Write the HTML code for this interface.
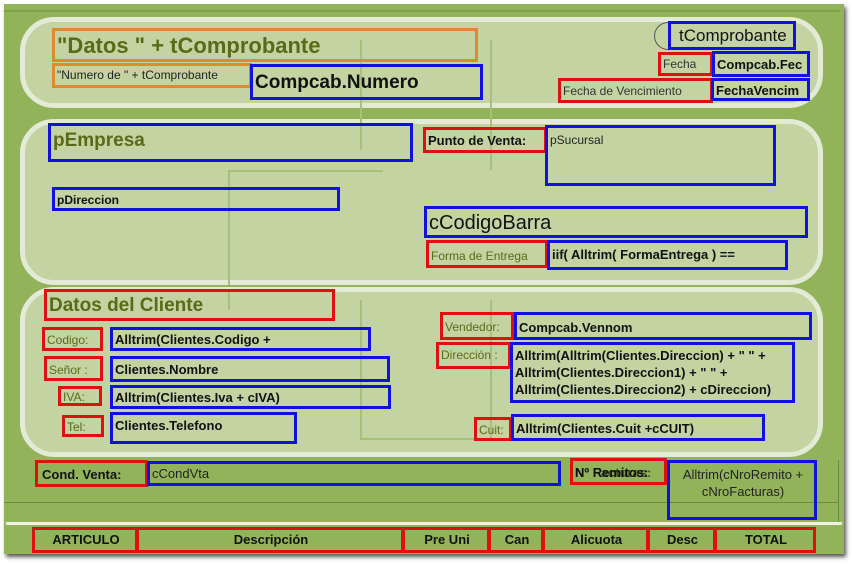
<!DOCTYPE html>
<html><head><meta charset="utf-8"><style>
*{margin:0;padding:0;box-sizing:border-box}
body{width:852px;height:565px;background:#fff;position:relative;overflow:hidden;font-family:"Liberation Sans Narrow","Liberation Sans",sans-serif}
.abs{position:absolute}
.frame{left:4px;top:4px;width:840px;height:550px;background:#92b35a;box-shadow:2px 3px 4px #555}
.panel{background:#c3d3a2;border:5px solid #e3ead5;border-radius:34px}
.b,.r,.o{position:absolute;border:3px solid #1010e0;white-space:nowrap;overflow:hidden;line-height:1.1;padding-left:2px}
.r{border-color:#e01010}
.o{border-color:#e08a30}
.t{color:#111;font-weight:bold}
.g{color:#6a7a20}
.hdr{font-weight:bold;font-size:13px;text-align:center;color:#111;line-height:20px}
</style></head><body>
<div class="abs frame"></div>
<div class="abs" style="left:4px;top:10px;width:836px;height:2px;background:#7f9f48"></div>
<div class="abs panel" style="left:20px;top:17px;width:803px;height:91px"></div>
<div class="abs panel" style="left:20px;top:119px;width:803px;height:166px"></div>
<div class="abs panel" style="left:20px;top:287px;width:803px;height:170px"></div>
<!-- faint guide lines -->
<div class="abs" style="left:228px;top:170px;width:2px;height:115px;background:#a7c07a"></div>
<div class="abs" style="left:228px;top:170px;width:155px;height:2px;background:#a7c07a"></div>
<div class="abs" style="left:228px;top:290px;width:2px;height:20px;background:#a7c07a"></div>
<div class="abs" style="left:360px;top:40px;width:2px;height:110px;background:#a7c07a"></div>
<div class="abs" style="left:490px;top:40px;width:2px;height:130px;background:#a7c07a"></div>
<div class="abs" style="left:360px;top:300px;width:2px;height:140px;background:#a7c07a"></div>
<div class="abs" style="left:490px;top:300px;width:2px;height:140px;background:#a7c07a"></div>
<div class="abs" style="left:360px;top:438px;width:132px;height:2px;background:#a7c07a"></div>
<!-- bottom band -->
<div class="abs" style="left:4px;top:502px;width:834px;height:1px;background:#6d8a40"></div>
<div class="abs" style="left:6px;top:522px;width:836px;height:3px;background:#eef2e4"></div>
<div class="abs" style="left:838px;top:460px;width:1px;height:62px;background:#6d8a40"></div>

<!-- header panel -->
<div class="o g" style="left:52px;top:28px;width:426px;height:34px;font-size:22px;font-weight:bold;color:#5a6a18;padding-top:3px">"Datos " + tComprobante</div>
<div class="o" style="left:52px;top:63px;width:200px;height:25px;font-size:12px;color:#222;padding-top:3px">"Numero de " + tComprobante</div>
<div class="b t" style="left:250px;top:64px;width:233px;height:36px;font-size:19px;padding-top:6px">Compcab.Numero</div>
<div class="abs" style="left:654px;top:22px;width:30px;height:28px;border:1px solid #555;border-radius:14px 0 0 14px;border-right:none"></div>
<div class="b" style="left:668px;top:21px;width:128px;height:29px;font-size:17px;color:#111;padding-top:3px;padding-left:8px">tComprobante</div>
<div class="r" style="left:658px;top:52px;width:55px;height:24px;font-size:12px;color:#333;padding-top:3px">Fecha</div>
<div class="b t" style="left:712px;top:51px;width:98px;height:26px;font-size:13px;padding-top:4px">Compcab.Fec</div>
<div class="r" style="left:558px;top:78px;width:155px;height:25px;font-size:12px;color:#333;padding-top:4px">Fecha de Vencimiento</div>
<div class="b t" style="left:711px;top:78px;width:99px;height:23px;font-size:13px;padding-top:3px">FechaVencim</div>

<!-- empresa panel -->
<div class="b" style="left:48px;top:123px;width:365px;height:39px;font-size:19px;font-weight:bold;color:#5a6a18;padding-top:5px">pEmpresa</div>
<div class="r t" style="left:423px;top:127px;width:124px;height:26px;font-size:13px;padding-top:4px">Punto de Venta:</div>
<div class="b" style="left:545px;top:125px;width:231px;height:61px;font-size:12px;color:#222;padding-top:6px">pSucursal</div>
<div class="b t" style="left:52px;top:187px;width:288px;height:24px;font-size:12px;padding-top:4px">pDireccion</div>
<div class="b" style="left:424px;top:206px;width:384px;height:32px;font-size:20px;color:#111;padding-top:3px">cCodigoBarra</div>
<div class="r" style="left:426px;top:240px;width:122px;height:28px;font-size:12px;color:#5a6a18;padding-top:7px">Forma de Entrega</div>
<div class="b t" style="left:547px;top:240px;width:241px;height:30px;font-size:13px;padding-top:5px">iif( Alltrim( FormaEntrega ) ==</div>

<!-- cliente panel -->
<div class="r" style="left:44px;top:289px;width:291px;height:32px;font-size:19px;font-weight:bold;color:#5a6a18;padding-top:4px">Datos del Cliente</div>
<div class="r" style="left:42px;top:327px;width:61px;height:24px;font-size:12px;color:#5a6a18;padding-top:4px">Codigo:</div>
<div class="b t" style="left:110px;top:327px;width:261px;height:24px;font-size:13px;padding-top:3px">Alltrim(Clientes.Codigo +</div>
<div class="r" style="left:44px;top:356px;width:59px;height:25px;font-size:12px;color:#5a6a18;padding-top:5px">Señor :</div>
<div class="b t" style="left:110px;top:356px;width:280px;height:26px;font-size:13px;padding-top:4px">Clientes.Nombre</div>
<div class="r" style="left:58px;top:386px;width:44px;height:20px;font-size:12px;color:#5a6a18;padding-top:2px">IVA:</div>
<div class="b t" style="left:110px;top:385px;width:281px;height:24px;font-size:13px;padding-top:3px">Alltrim(Clientes.Iva + cIVA)</div>
<div class="r" style="left:62px;top:415px;width:42px;height:22px;font-size:12px;color:#5a6a18;padding-top:3px">Tel:</div>
<div class="b t" style="left:110px;top:412px;width:187px;height:32px;font-size:13px;padding-top:4px">Clientes.Telefono</div>
<div class="r" style="left:440px;top:312px;width:74px;height:28px;font-size:12px;color:#5a6a18;padding-top:6px">Vendedor:</div>
<div class="b t" style="left:514px;top:312px;width:298px;height:28px;font-size:13px;padding-top:6px">Compcab.Vennom</div>
<div class="r" style="left:436px;top:342px;width:75px;height:27px;font-size:12px;color:#5a6a18;padding-top:4px">Dirección :</div>
<div class="b t" style="left:510px;top:342px;width:285px;height:61px;font-size:13px;padding-top:2px;line-height:17px">Alltrim(Alltrim(Clientes.Direccion) + " " +<br>Alltrim(Clientes.Direccion1) + " " +<br>Alltrim(Clientes.Direccion2) + cDireccion)</div>
<div class="r" style="left:474px;top:417px;width:38px;height:24px;font-size:12px;color:#5a6a18;padding-top:4px">Cuit:</div>
<div class="b t" style="left:511px;top:414px;width:254px;height:27px;font-size:13px;padding-top:5px">Alltrim(Clientes.Cuit +cCUIT)</div>

<!-- cond venta -->
<div class="r t" style="left:35px;top:460px;width:113px;height:27px;font-size:13px;padding-top:5px;padding-left:4px">Cond. Venta:</div>
<div class="b" style="left:147px;top:461px;width:414px;height:25px;font-size:13px;color:#222;padding-top:3px">cCondVta</div>
<div class="r t" style="left:570px;top:458px;width:97px;height:27px;font-size:13px;padding-top:5px">Nº Remitos:<span style="position:absolute;left:2px;top:5px;opacity:.6">Nº Facturas:</span></div>
<div class="b" style="left:667px;top:460px;width:150px;height:60px;font-size:13px;color:#222;text-align:center;padding-top:3px;line-height:17px">Alltrim(cNroRemito +<br>cNroFacturas)</div>

<!-- header row -->
<div class="r hdr" style="left:32px;top:527px;width:106px;height:26px">ARTICULO</div>
<div class="r hdr" style="left:136px;top:527px;width:268px;height:26px">Descripción</div>
<div class="r hdr" style="left:402px;top:527px;width:88px;height:26px">Pre Uni</div>
<div class="r hdr" style="left:488px;top:527px;width:56px;height:26px">Can</div>
<div class="r hdr" style="left:542px;top:527px;width:107px;height:26px">Alicuota</div>
<div class="r hdr" style="left:647px;top:527px;width:69px;height:26px">Desc</div>
<div class="r hdr" style="left:714px;top:527px;width:102px;height:26px">TOTAL</div>
</body></html>
